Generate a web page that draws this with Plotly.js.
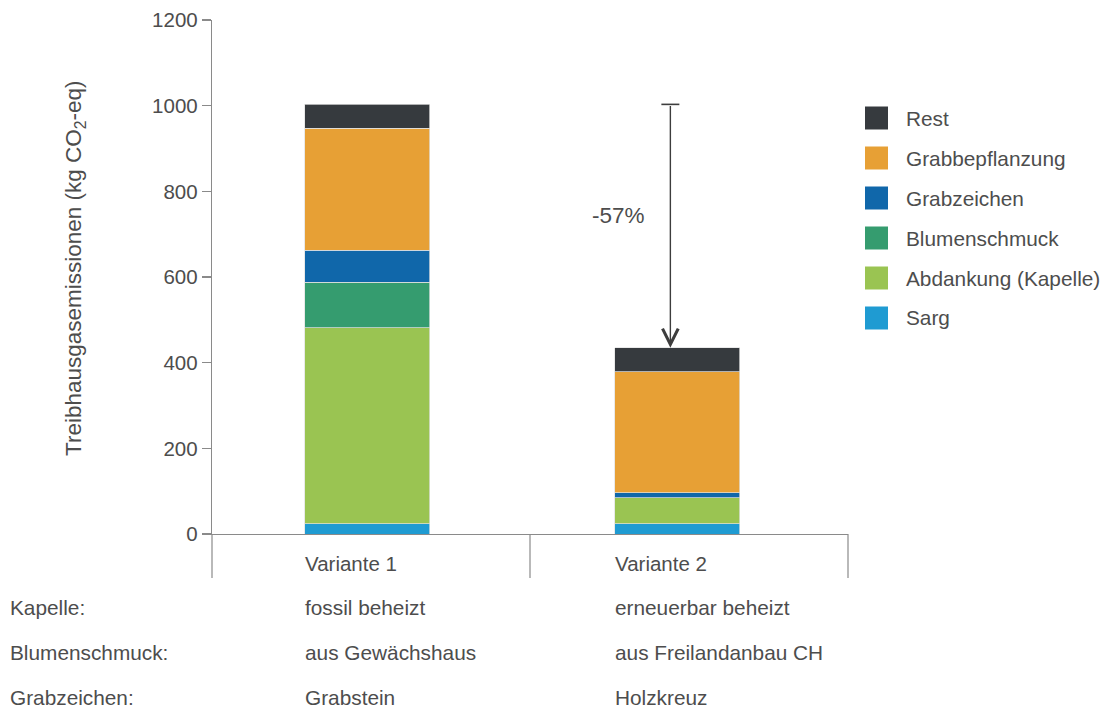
<!DOCTYPE html>
<html>
<head>
<meta charset="utf-8">
<script src="https://cdn.plot.ly/plotly-3.0.1.min.js"></script>
<style>html,body{margin:0;padding:0;background:#fff;}#chart{width:1101px;height:708px;}</style>
</head>
<body>
<div id="chart"></div>
<script>
// ---- data ----
const categories = ['Variante 1', 'Variante 2'];
const seriesNames = ['Sarg', 'Abdankung (Kapelle)', 'Blumenschmuck', 'Grabzeichen', 'Grabbepflanzung', 'Rest'];
const sarg = [24, 24];
const abdankung = [457, 61];
const blumenschmuck = [107, 0];
const grabzeichen = [75, 11];
const grabbepflanzung = [284, 283];
const rest = [56, 56];
const seriesColors = ['#1f9bd2', '#9ac452', '#359c6f', '#1067aa', '#e7a035', '#363a3e'];
const yTicks = [0, 200, 400, 600, 800, 1000, 1200];
const rowLabels = ['Kapelle:', 'Blumenschmuck:', 'Grabzeichen:'];
const rowValuesV1 = ['fossil beheizt', 'aus Gewächshaus', 'Grabstein'];
const rowValuesV2 = ['erneuerbar beheizt', 'aus Freilandanbau CH', 'Holzkreuz'];
const yTitle = 'Treibhausgasemissionen (kg CO<sub>2</sub>-eq)';

const seriesValues = [sarg, abdankung, blumenschmuck, grabzeichen, grabbepflanzung, rest];

// ---- layout helpers ----
const L = 212, R = 848, T = 20, B = 534, W = 1101, H = 708;
const pxX = p => (p - L) / (R - L);
const pxY = p => (B - p) / (B - T);
const FONT = 'Liberation Sans, Arial, sans-serif';
const TXT = '#4d4d4d';
const barWidth = 0.403;
const halfBarPx = 64;

const traces = seriesValues.map((vals, i) => ({
  type: 'bar',
  name: seriesNames[i],
  x: categories,
  y: vals,
  width: barWidth,
  marker: {color: seriesColors[i], line: {color: 'rgba(225,225,225,0.9)', width: 0.8}},
  showlegend: false,
  hoverinfo: 'name+y'
}));

const totals = categories.map((c, j) => seriesValues.reduce((s, v) => s + v[j], 0));
const pct = Math.round((totals[1] / totals[0] - 1) * 100);

const annotations = [];
const shapes = [];

// y title
annotations.push({
  xref: 'paper', yref: 'paper', x: pxX(75), y: pxY(268),
  text: yTitle, textangle: -90, showarrow: false,
  xanchor: 'center', yanchor: 'middle',
  font: {family: FONT, size: 22.5, color: TXT}
});

// category labels + table rows
categories.forEach((c, j) => {
  annotations.push({
    xref: 'x', yref: 'paper', x: c, y: pxY(563), xshift: -halfBarPx,
    text: c, showarrow: false, xanchor: 'left', yanchor: 'middle',
    font: {family: FONT, size: 20.5, color: TXT}
  });
});
const rowY = [607, 652, 697];
rowLabels.forEach((lab, r) => {
  annotations.push({
    xref: 'paper', yref: 'paper', x: pxX(8), y: pxY(rowY[r]),
    text: lab, showarrow: false, xanchor: 'left', yanchor: 'middle',
    font: {family: FONT, size: 20.8, color: TXT}
  });
  [rowValuesV1, rowValuesV2].forEach((vals, j) => {
    annotations.push({
      xref: 'x', yref: 'paper', x: categories[j], y: pxY(rowY[r]), xshift: -halfBarPx,
      text: vals[r], showarrow: false, xanchor: 'left', yanchor: 'middle',
      font: {family: FONT, size: 20.8, color: TXT}
    });
  });
});

// reduction arrow
annotations.push({
  xref: 'x', yref: 'y', x: categories[1], y: totals[1],
  axref: 'x', ayref: 'y', ax: categories[1], ay: totals[0],
  xshift: -7,
  showarrow: true, arrowhead: 5, arrowsize: 2.2, arrowwidth: 1.4, arrowcolor: '#3d3d3d',
  text: ''
});
shapes.push({
  type: 'line', xref: 'x', yref: 'y', xsizemode: 'pixel', xanchor: categories[1],
  x0: -16, x1: 2, y0: totals[0], y1: totals[0],
  line: {color: '#3d3d3d', width: 1.6}
});
annotations.push({
  xref: 'x', yref: 'paper', x: categories[1], y: pxY(215), xshift: -59,
  text: pct + '%', showarrow: false, xanchor: 'center', yanchor: 'middle',
  font: {family: FONT, size: 22.5, color: TXT}
});

// separators below axis
[0, 0.5, 1].forEach(xp => {
  shapes.push({
    type: 'line', xref: 'paper', yref: 'paper', x0: xp, x1: xp, y0: 0, y1: pxY(578),
    line: {color: '#8a8a8a', width: 1.2}
  });
});

// manual legend (top = Rest)
for (let k = 0; k < seriesNames.length; k++) {
  const idx = seriesNames.length - 1 - k;
  const cy = 118 + k * 40;
  shapes.push({
    type: 'rect', xref: 'paper', yref: 'paper',
    x0: pxX(865), x1: pxX(888), y0: pxY(cy + 11.5), y1: pxY(cy - 11.5),
    fillcolor: seriesColors[idx], line: {width: 0}
  });
  annotations.push({
    xref: 'paper', yref: 'paper', x: pxX(904), y: pxY(cy),
    text: seriesNames[idx], showarrow: false, xanchor: 'left', yanchor: 'middle',
    font: {family: FONT, size: 20.8, color: TXT}
  });
}

const layout = {
  width: W, height: H,
  margin: {l: L, r: W - R, t: T, b: H - B, pad: 0},
  paper_bgcolor: '#fff', plot_bgcolor: '#fff',
  barmode: 'stack',
  showlegend: false,
  font: {family: FONT, size: 20, color: TXT},
  xaxis: {
    type: 'category', range: [-0.5, 1.55],
    showticklabels: false, ticks: '', showgrid: false, zeroline: false,
    showline: true, linecolor: '#8a8a8a', linewidth: 1.2, fixedrange: true
  },
  yaxis: {
    range: [0, 1200], tickvals: yTicks, ticktext: yTicks.map(String),
    ticks: 'outside', ticklen: 9, tickcolor: '#8a8a8a', tickwidth: 1.2,
    showgrid: false, zeroline: false,
    showline: true, linecolor: '#8a8a8a', linewidth: 1.2,
    tickfont: {family: FONT, size: 20.5, color: TXT}, fixedrange: true
  },
  annotations: annotations,
  shapes: shapes
};

Plotly.newPlot('chart', traces, layout, {displayModeBar: false, staticPlot: true});
</script>
</body>
</html>
